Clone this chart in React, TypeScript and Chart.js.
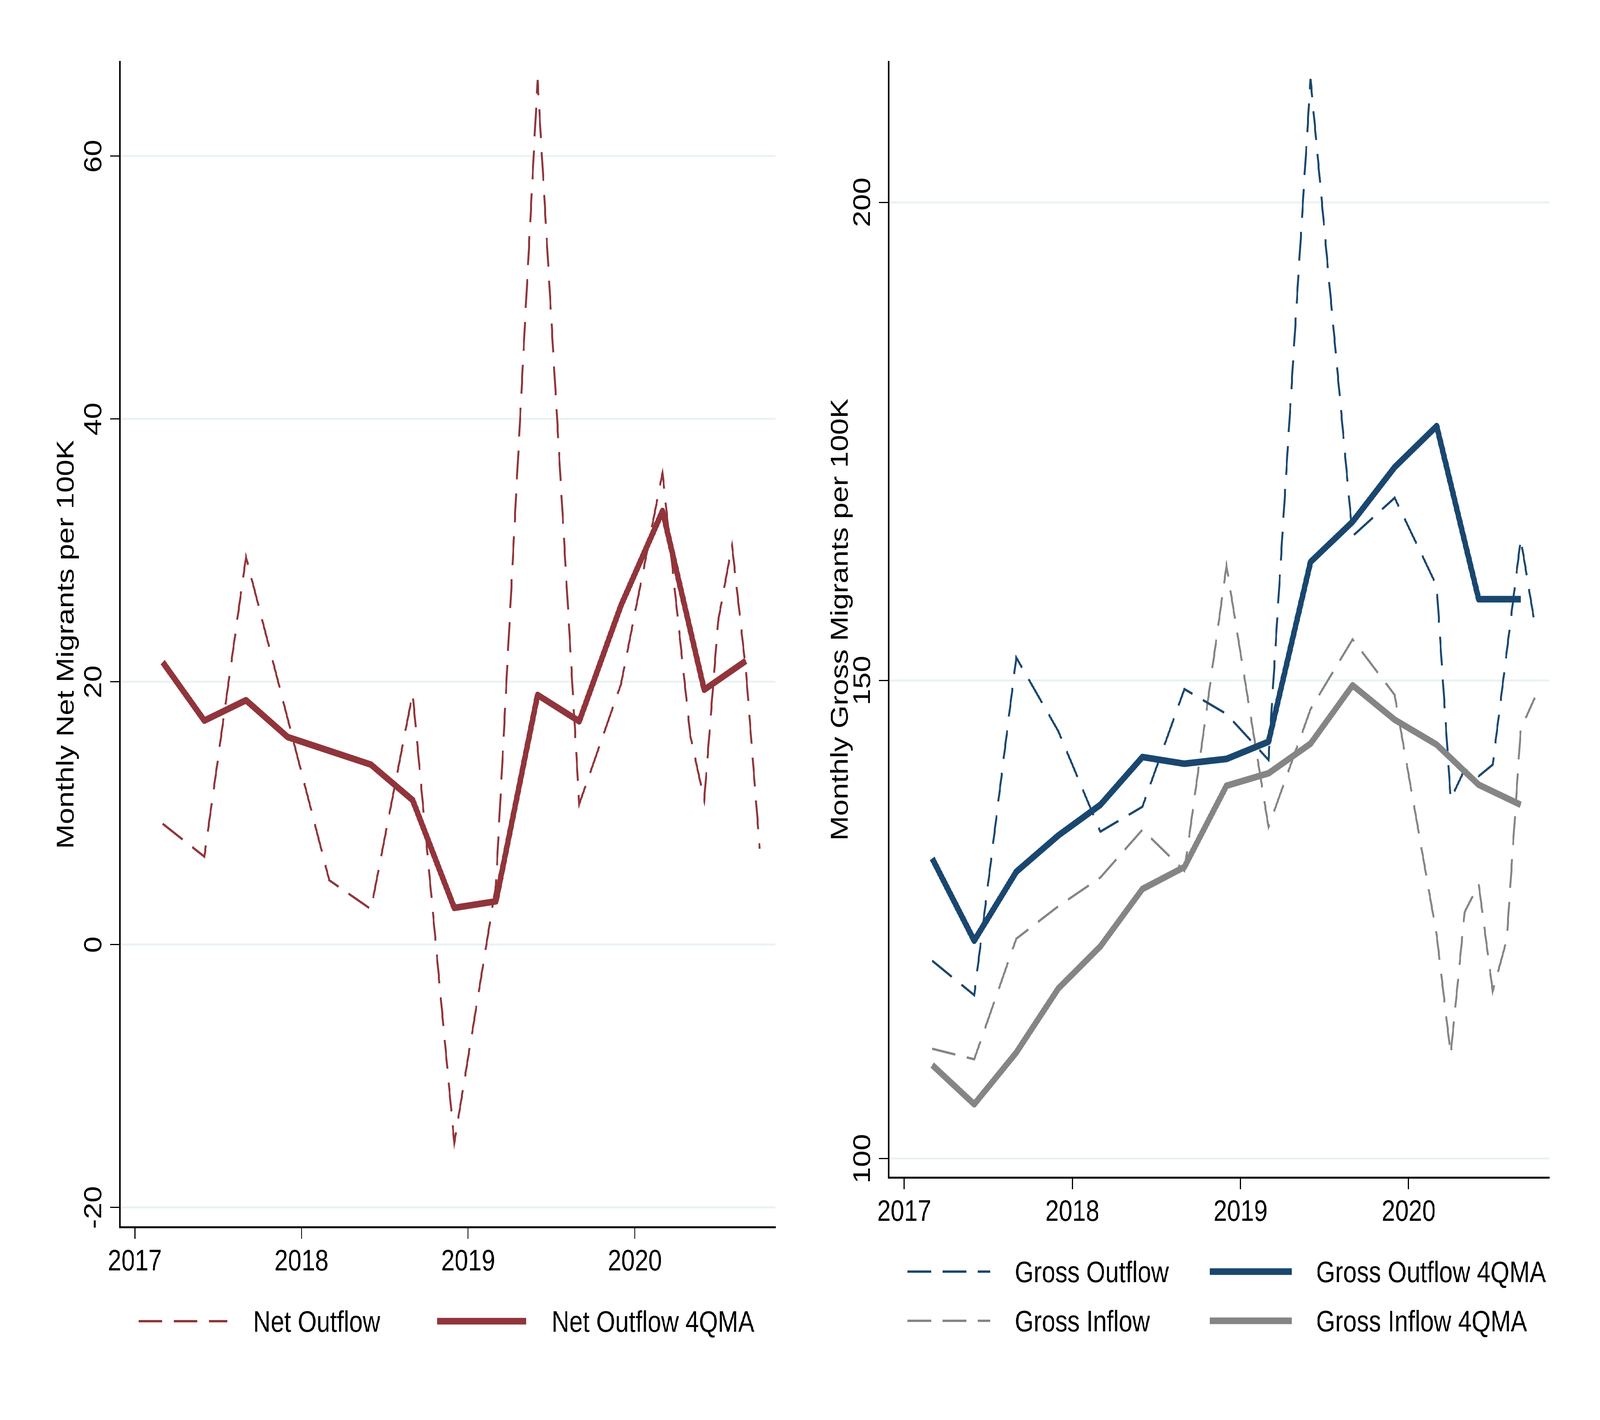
import { useEffect, useRef } from "react"
import { Chart, registerables } from "chart.js"

Chart.register(...registerables)

// ---- data ----
// raw series: quarter-end months to 2020m3, then monthly
const RAW_DATES = [
  "2017-03", "2017-06", "2017-09", "2017-12",
  "2018-03", "2018-06", "2018-09", "2018-12",
  "2019-03", "2019-06", "2019-09", "2019-12",
  "2020-03", "2020-04", "2020-05", "2020-06", "2020-07", "2020-08", "2020-09", "2020-10",
]
// four-quarter moving averages
const MA_DATES = [
  "2017-03", "2017-06", "2017-09", "2017-12",
  "2018-03", "2018-06", "2018-09", "2018-12",
  "2019-03", "2019-06", "2019-09", "2019-12",
  "2020-03", "2020-06", "2020-09",
]

const NET_OUTFLOW = [9.2, 6.7, 29.5, 17.2, 4.9, 2.7, 19.1, -15.1, 4.5, 65.8, 10.7, 19.8, 35.9, 25.8, 15.9, 11.0, 24.6, 30.4, 20.9, 7.3]
const NET_OUTFLOW_4QMA = [21.5, 17.05, 18.6, 15.8, 14.75, 13.7, 11.0, 2.8, 3.3, 19.0, 17.0, 25.8, 33.0, 19.4, 21.6]

const GROSS_OUTFLOW = [120.7, 117.1, 152.4, 144.7, 134.2, 136.8, 149.1, 146.5, 141.7, 212.9, 165.1, 169.1, 159.9, 137.6, 140.7, 140.0, 141.2, 153.0, 164.8, 155.9]
const GROSS_INFLOW = [111.5, 110.4, 123.0, 126.4, 129.4, 134.4, 130.1, 162.0, 134.7, 147.0, 154.3, 148.5, 123.4, 110.9, 125.8, 128.7, 117.5, 122.9, 144.9, 148.2]
const GROSS_OUTFLOW_4QMA = [131.4, 122.8, 130.0, 133.8, 137.0, 142.0, 141.3, 141.8, 143.6, 162.4, 166.6, 172.3, 176.6, 158.5, 158.5]
const GROSS_INFLOW_4QMA = [109.8, 105.7, 111.1, 117.8, 122.2, 128.2, 130.5, 139.0, 140.3, 143.4, 149.5, 145.9, 143.3, 139.1, 137.0]

const YEAR_TICKS = [2017, 2018, 2019, 2020]
const NET_TICKS = [-20, 0, 20, 40, 60]
const GROSS_TICKS = [100, 150, 200]

// ---- styles ----
const FONT_FAMILY = '"Liberation Sans", Arial, Helvetica, sans-serif'
const FONT_SIZE = 76
const CRANBERRY = "#90353b"
const NAVY = "#1a476f"
const GRAY = "#858585"
const GRID = "#eaf2f3"
const DASH = [74, 36]

const PAGE_W = 5000
const PAGE_H = 3636

const toX = (d: string) => {
  const [y, m] = d.split("-").map(Number)
  return y + (m - 1) / 12
}
const pts = (dates: string[], vals: number[]) => vals.map((v, i) => ({ x: toX(dates[i]), y: v }))

const font = { family: FONT_FAMILY, size: FONT_SIZE }

function dashed(label: string, color: string, data: { x: number; y: number }[]) {
  return {
    label, data, borderColor: color, borderWidth: 6, borderDash: DASH,
    pointRadius: 0, pointHoverRadius: 0, tension: 0, fill: false, order: 2,
  }
}
function solid(label: string, color: string, data: { x: number; y: number }[]) {
  return {
    label, data, borderColor: color, borderWidth: 17, borderJoinStyle: "round" as const,
    pointRadius: 0, pointHoverRadius: 0, tension: 0, fill: false, order: 1,
  }
}

type LegendSlot = { dataset: number; x0: number; x1: number; textX: number; y: number }

// rotated y tick labels and a Stata-like legend
function decor(slots: LegendSlot[]) {
  return {
    id: "decor",
    afterDraw(chart: Chart) {
      const { ctx, chartArea } = chart
      const yScale = chart.scales.y
      ctx.save()
      ctx.fillStyle = "#000"
      ctx.font = `${FONT_SIZE}px ${FONT_FAMILY}`
      ctx.textAlign = "center"
      ctx.textBaseline = "alphabetic"
      yScale.ticks.forEach((t) => {
        ctx.save()
        ctx.translate(chartArea.left - 58, yScale.getPixelForValue(t.value))
        ctx.rotate(-Math.PI / 2)
        ctx.fillText(String(t.value), 0, 0)
        ctx.restore()
      })
      ctx.textAlign = "left"
      slots.forEach((s) => {
        const ds = chart.data.datasets[s.dataset] as any
        ctx.save()
        ctx.strokeStyle = ds.borderColor
        ctx.lineWidth = ds.borderWidth
        ctx.setLineDash(ds.borderDash || [])
        ctx.beginPath()
        ctx.moveTo(s.x0, s.y)
        ctx.lineTo(s.x1, s.y)
        ctx.stroke()
        ctx.restore()
        ctx.fillText(ds.label, s.textX, s.y + 27)
      })
      ctx.restore()
    },
  }
}

type PanelSpec = {
  datasets: any[]
  xMin: number; xMax: number
  yMin: number; yMax: number
  yTicks: number[]
  yTitle: string
  titlePad: number
  axisLeft: number
  axisHeight: number
  padRight: number
  legend: LegendSlot[]
}

function makeConfig(p: PanelSpec): any {
  return {
    type: "line",
    data: { datasets: p.datasets },
    plugins: [decor(p.legend)],
    options: {
      animation: false,
      responsive: false,
      devicePixelRatio: 1,
      events: [],
      layout: { padding: { top: 158, right: p.padRight, bottom: 0, left: 0 } },
      plugins: { legend: { display: false }, tooltip: { enabled: false } },
      scales: {
        x: {
          type: "linear",
          min: p.xMin,
          max: p.xMax,
          afterBuildTicks: (s: any) => { s.ticks = YEAR_TICKS.map((v) => ({ value: v })) },
          afterFit: (s: any) => { s.height = p.axisHeight },
          ticks: { font, color: "#000", padding: 14, autoSkip: false, maxRotation: 0, callback: (v: number) => String(v) },
          grid: { drawOnChartArea: false, drawTicks: true, tickLength: 30, tickColor: "#000", tickWidth: 3 },
          border: { display: true, color: "#000", width: 5 },
        },
        y: {
          type: "linear",
          min: p.yMin,
          max: p.yMax,
          afterBuildTicks: (s: any) => { s.ticks = p.yTicks.map((v) => ({ value: v })) },
          afterFit: (s: any) => { s.width = p.axisLeft },
          ticks: { display: false },
          grid: { color: GRID, lineWidth: 5, drawTicks: true, tickLength: 30, tickColor: "#000", tickWidth: 3 },
          border: { display: true, color: "#000", width: 5 },
          title: { display: true, text: p.yTitle, font, color: "#000", padding: { top: p.titlePad, bottom: 0 } },
        },
      },
    },
  }
}

function Panel({ spec }: { spec: PanelSpec }) {
  const canvasRef = useRef<HTMLCanvasElement>(null)
  const chartRef = useRef<Chart | null>(null)

  useEffect(() => {
    if (!canvasRef.current) return
    if (chartRef.current) chartRef.current.destroy()
    chartRef.current = new Chart(canvasRef.current, makeConfig(spec))
    return () => {
      if (chartRef.current) {
        chartRef.current.destroy()
        chartRef.current = null
      }
    }
  }, [spec])

  return <canvas ref={canvasRef} width={2500} height={3636} style={{ display: "block", width: 2500, height: 3636, flex: "none" }} />
}

const netSpec: PanelSpec = {
  datasets: [
    dashed("Net Outflow", CRANBERRY, pts(RAW_DATES, NET_OUTFLOW)),
    solid("Net Outflow 4QMA", CRANBERRY, pts(MA_DATES, NET_OUTFLOW_4QMA)),
  ],
  xMin: 2016.9086, xMax: 2020.8437,
  yMin: -21.49, yMax: 67.19,
  yTicks: NET_TICKS,
  yTitle: "Monthly Net Migrants per 100K",
  titlePad: 163,
  axisLeft: 374,
  axisHeight: 494,
  padRight: 77,
  legend: [
    { dataset: 0, x0: 433, x1: 711, textX: 791, y: 3383 },
    { dataset: 1, x0: 1366, x1: 1644, textX: 1724, y: 3383 },
  ],
}

const grossSpec: PanelSpec = {
  datasets: [
    dashed("Gross Outflow", NAVY, pts(RAW_DATES, GROSS_OUTFLOW)),
    dashed("Gross Inflow", GRAY, pts(RAW_DATES, GROSS_INFLOW)),
    solid("Gross Outflow 4QMA", NAVY, pts(MA_DATES, GROSS_OUTFLOW_4QMA)),
    solid("Gross Inflow 4QMA", GRAY, pts(MA_DATES, GROSS_INFLOW_4QMA)),
  ],
  xMin: 2016.9077, xMax: 2020.8373,
  yMin: 98.04, yMax: 214.7,
  yTicks: GROSS_TICKS,
  yTitle: "Monthly Gross Migrants per 100K",
  titlePad: 82,
  axisLeft: 277,
  axisHeight: 621,
  padRight: 158,
  legend: [
    { dataset: 0, x0: 336, x1: 595, textX: 671, y: 3256 },
    { dataset: 2, x0: 1280, x1: 1537, textX: 1613, y: 3256 },
    { dataset: 1, x0: 336, x1: 595, textX: 671, y: 3382 },
    { dataset: 3, x0: 1280, x1: 1537, textX: 1613, y: 3382 },
  ],
}

export default function App() {
  // the figure is laid out on a 5000x3636 sheet; fit that sheet to the viewport actually given
  const vw = typeof window !== "undefined" && window.innerWidth > 0 ? window.innerWidth : PAGE_W
  const vh = typeof window !== "undefined" && window.innerHeight > 0 ? window.innerHeight : PAGE_H
  const sx = vw / PAGE_W
  const sy = vh / PAGE_H

  return (
    <>
      <style>{"html,body{margin:0;padding:0;background:#fff;overflow:hidden}"}</style>
      <div style={{ width: PAGE_W * sx, height: PAGE_H * sy, overflow: "hidden", background: "#fff" }}>
        <div
          style={{
            display: "flex",
            width: PAGE_W,
            height: PAGE_H,
            transform: `scale(${sx}, ${sy})`,
            transformOrigin: "0 0",
          }}
        >
          <Panel spec={netSpec} />
          <Panel spec={grossSpec} />
        </div>
      </div>
    </>
  )
}
